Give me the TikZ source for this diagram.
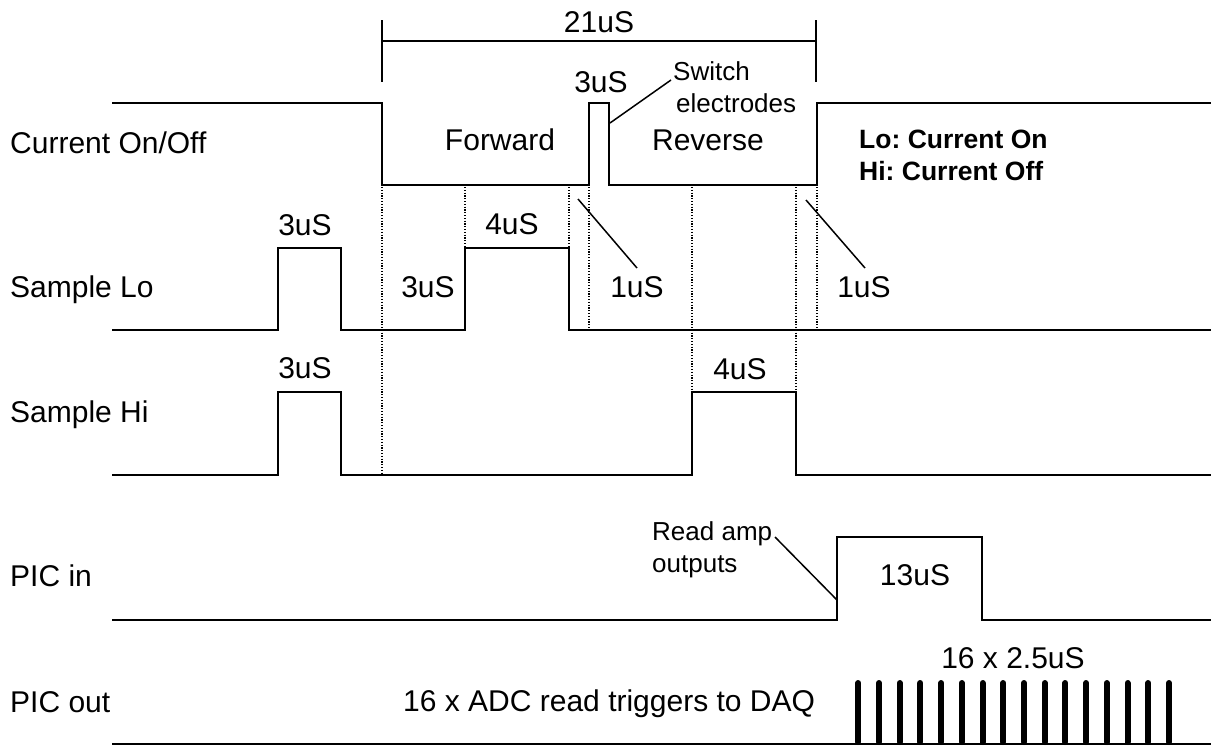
\documentclass[tikz,border=0pt]{standalone}
\usepackage{fontspec}
\setmainfont{Liberation Sans}
\frenchspacing
\begin{document}
\begin{tikzpicture}[x=1pt,y=-1pt,
  wave/.style={line width=2pt, line join=miter},
  guide/.style={line width=1.2pt, dash pattern=on 1.2pt off 1.6pt},
  leader/.style={line width=1.5pt},
  lbl/.style={inner sep=0pt, font=\fontsize{30}{34}\selectfont},
  note/.style={inner sep=0pt, font=\fontsize{26}{30}\selectfont},
  bnote/.style={inner sep=0pt, font=\fontsize{26.5}{30}\selectfont\bfseries},
  trig/.style={line width=6pt, line cap=round}]
\useasboundingbox (0,0) rectangle (1211,745);

% signal names
\node[lbl, anchor=base west] (ncur) at (10,153) {Current On/Off};
\node[lbl, anchor=base west] (nslo) at (10,297) {Sample Lo};
\node[lbl, anchor=base west] (nshi) at (10,422) {Sample Hi};
\node[lbl, anchor=base west] (npin) at (10,586) {PIC in};
\node[lbl, anchor=base west] (npout) at (10,712) {PIC out};

% overall window bracket
\draw[wave] (382,20) -- (382,82);
\draw[wave] (816,20) -- (816,82);
\draw[wave] (382,41) -- (816,41);
\node[lbl, anchor=base] (t21) at (599,32) {21uS};

% current on/off waveform
\draw[wave] (112,103) -- (382,103) -- (382,185) -- (589,185) -- (589,103)
  -- (609,103) -- (609,185) -- (816.5,185) -- (816.5,103) -- (1211,103);
\node[lbl, anchor=base] (fwd) at (500,150) {Forward};
\node[lbl, anchor=base] (rev) at (708,150) {Reverse};
\node[lbl, anchor=base] (t3c) at (601,92) {3uS};
\node[note, anchor=base west] (sw1) at (673,80) {Switch};
\node[note, anchor=base west] (sw2) at (676,112) {electrodes};
\coordinate (swA) at (671,80);
\coordinate (swB) at (610,123);
\draw[leader] (swA) -- (swB);
\node[bnote, anchor=base west] (lo) at (859,148) {Lo: Current On};
\node[bnote, anchor=base west] (hi) at (859,180) {Hi: Current Off};

% timing guides
\draw[guide] (382,187) -- (382,475);
\draw[guide] (465,187) -- (465,248);
\draw[guide] (569,187) -- (569,248);
\draw[guide] (589,187) -- (589,330);
\draw[guide] (692,187) -- (692,392);
\draw[guide] (796,187) -- (796,392);
\draw[guide] (817,187) -- (817,330);

% sample lo waveform
\draw[wave] (112,330) -- (278,330) -- (278,248) -- (341,248) -- (341,330)
  -- (465,330) -- (465,248) -- (569,248) -- (569,330) -- (1211,330);
\node[lbl, anchor=base] (t3a) at (305,235) {3uS};
\node[lbl, anchor=base] (t4a) at (512,234) {4uS};
\node[lbl, anchor=base] (t3b) at (428,297) {3uS};
\node[lbl, anchor=base] (t1a) at (637,297) {1uS};
\node[lbl, anchor=base] (t1b) at (864,297) {1uS};
\coordinate (l1a) at (578,199);
\coordinate (l1b) at (637,268);
\coordinate (l2a) at (806,200);
\coordinate (l2b) at (865,268);
\draw[leader] (l1a) -- (l1b);
\draw[leader] (l2a) -- (l2b);

% sample hi waveform
\draw[wave] (112,475) -- (278,475) -- (278,392) -- (341,392) -- (341,475)
  -- (692,475) -- (692,392) -- (796,392) -- (796,475) -- (1211,475);
\node[lbl, anchor=base] (t3h) at (305,378) {3uS};
\node[lbl, anchor=base] (t4h) at (740,379) {4uS};

% PIC in waveform
\draw[wave] (112,620) -- (837,620) -- (837,537) -- (982,537) -- (982,620) -- (1211,620);
\node[lbl, anchor=base] (t13) at (915,585) {13uS};
\node[note, anchor=base west] (ra1) at (652,540) {Read amp};
\node[note, anchor=base west] (ra2) at (652,572) {outputs};
\coordinate (raA) at (775,537);
\coordinate (raB) at (837,600);
\draw[leader] (raA) -- (raB);

% PIC out triggers
\draw[wave] (112,744) -- (1211,744);
\node[lbl, anchor=base west] (adc) at (403,711) {16 x ADC read triggers to DAQ};
\node[lbl, anchor=base] (t16) at (1013,668) {16 x 2.5uS};
\foreach \i in {0,...,15}
  \draw[trig] ({858.3+20.71*\i},742) -- ({858.3+20.71*\i},683);
\end{tikzpicture}
\end{document}
